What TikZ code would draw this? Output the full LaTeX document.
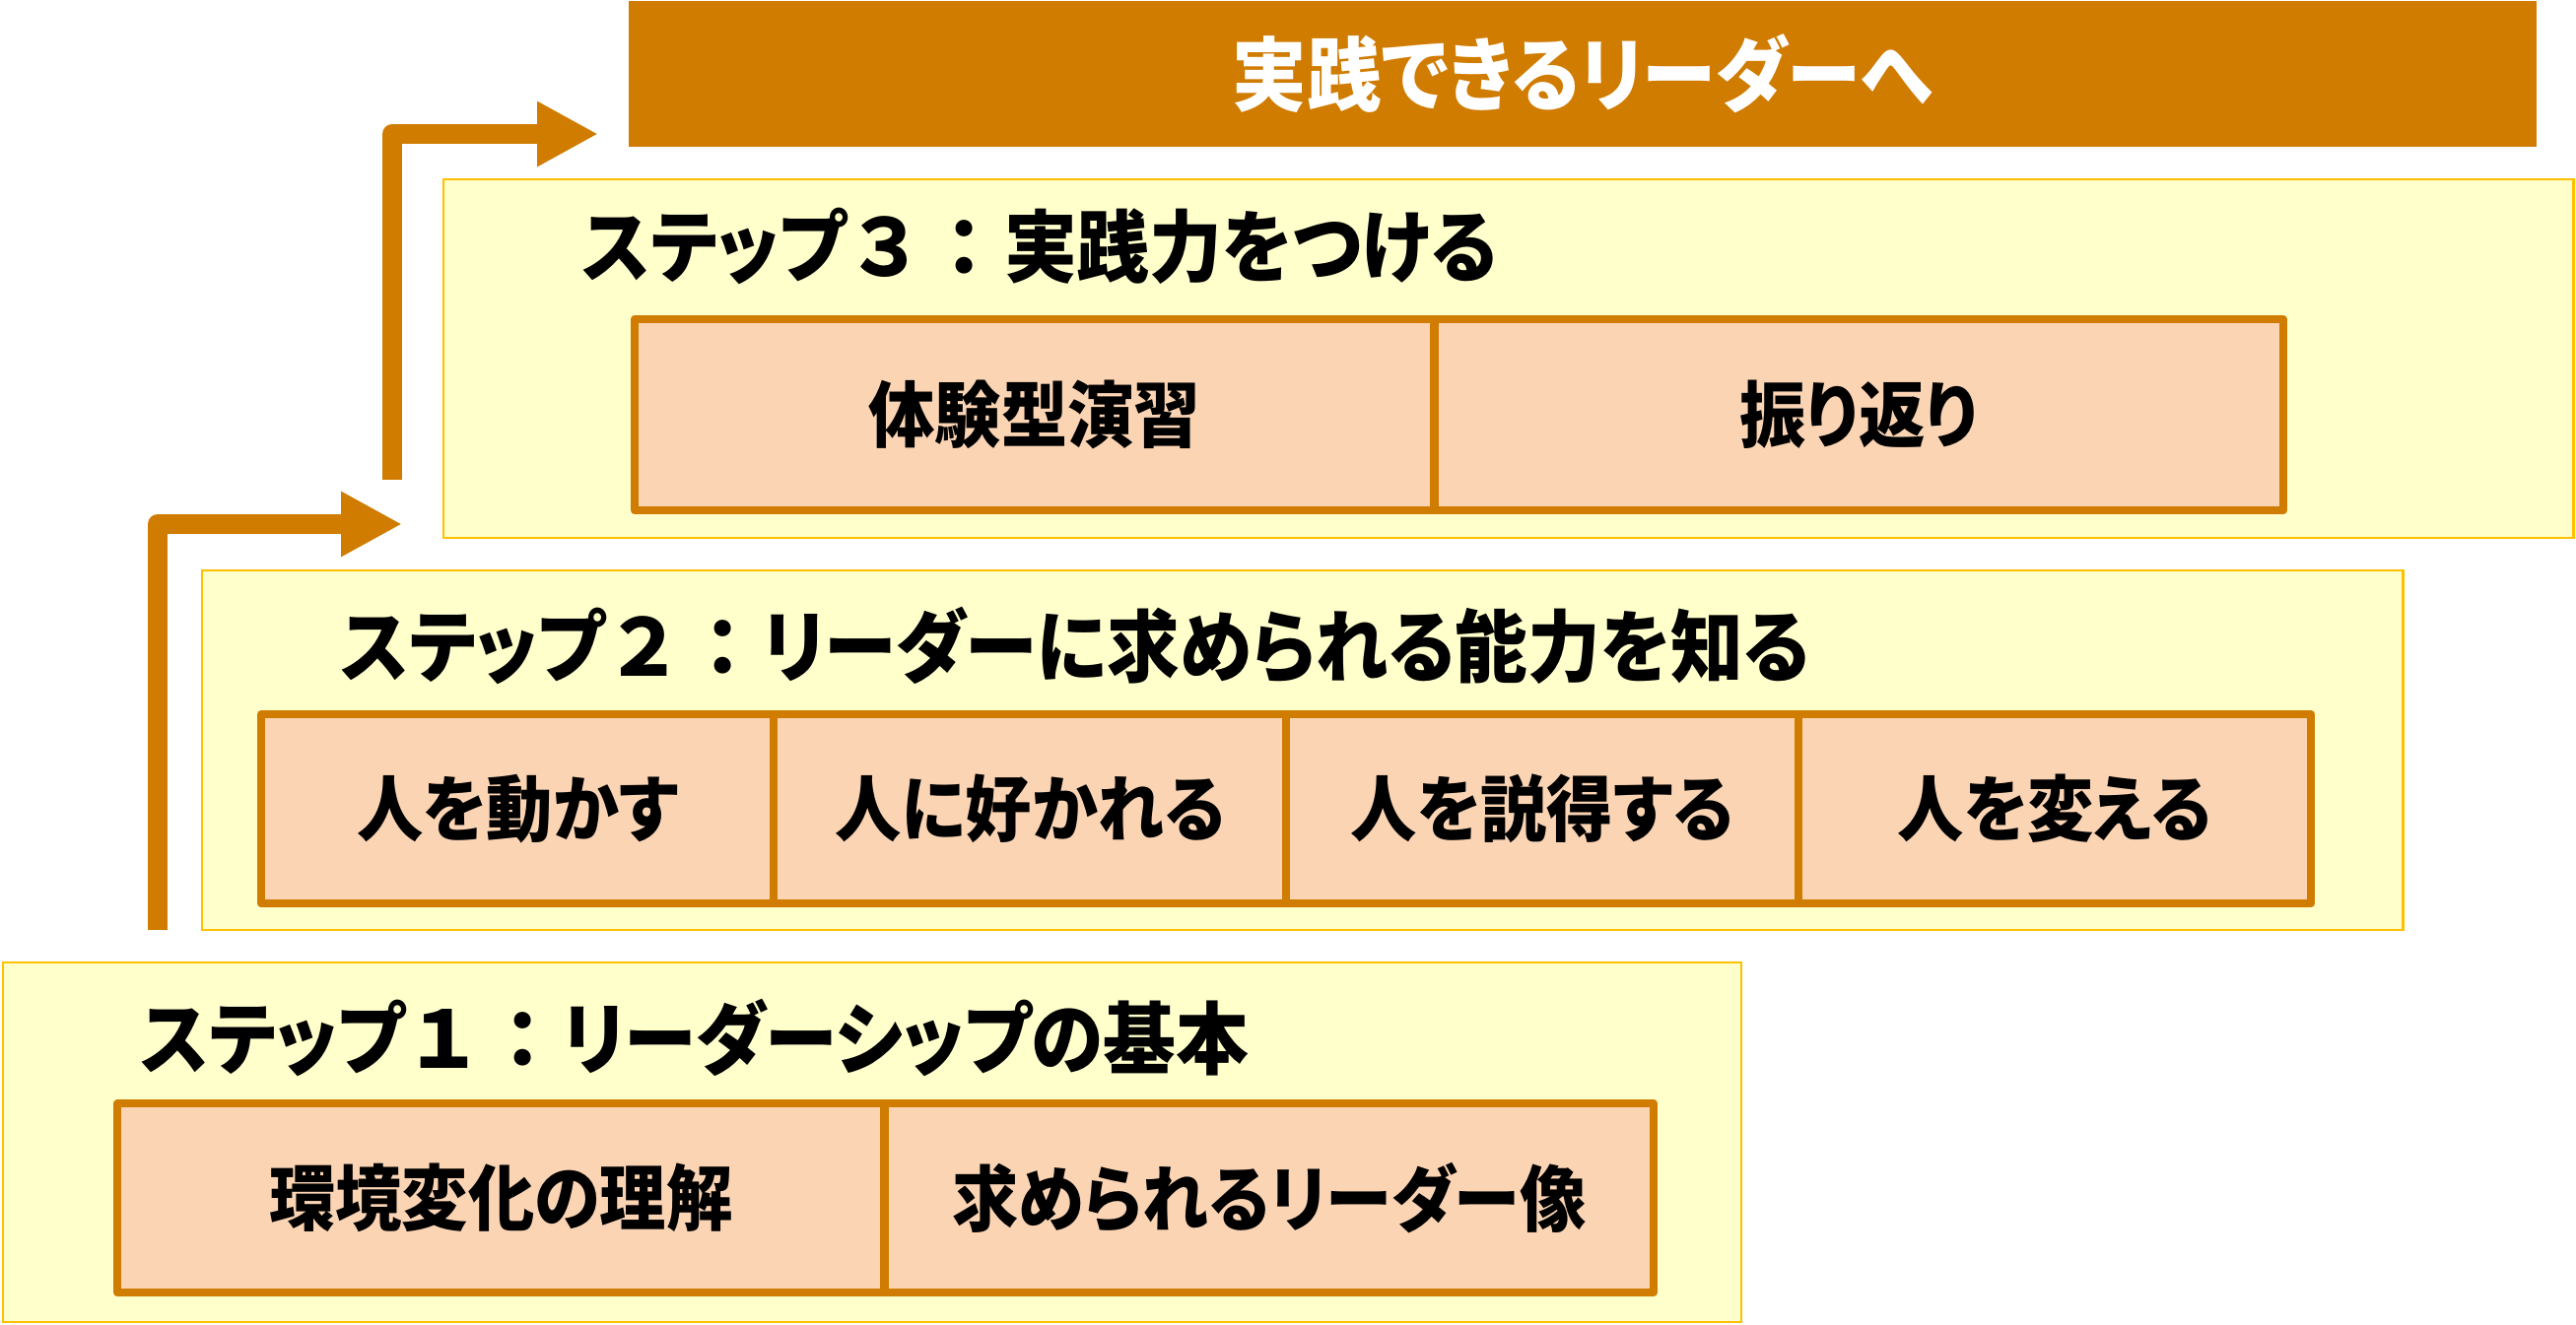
\documentclass[tikz,border=0pt]{standalone}
\usepackage{fontspec}
\usetikzlibrary{arrows.meta}
\newfontfamily\jp[RawFeature=+palt, FakeStretch=0.92]{Noto Sans CJK JP}
\newfontfamily\jpf{Noto Sans CJK JP}
\definecolor{barorange}{RGB}{208,124,0}
\definecolor{stepfill}{RGB}{255,255,204}
\definecolor{stepline}{RGB}{255,192,0}
\definecolor{cellfill}{RGB}{251,212,180}
\tikzset{
  stepbox/.style={draw=stepline, fill=stepfill, line width=0.7pt, anchor=north west, inner sep=0pt, outer sep=0pt},
  cell/.style={draw=barorange, fill=cellfill, line width=2.3pt, line join=round, anchor=north west, inner sep=0pt, outer sep=0pt, font=\jp\bfseries\fontsize{20.8}{24}\selectfont},
  steptitle/.style={anchor=base west, inner sep=0pt, font=\jp\bfseries\fontsize{22.8}{26}\selectfont},
  stairarrow/.style={draw=barorange, line width=5.7pt, line join=round, -{Triangle[length=17.6pt,width=17.6pt]}},
}
\begin{document}
\begin{tikzpicture}[x=0.01cm, y=-0.01cm]
\useasboundingbox (0,0) rectangle (2614,1344);
% goal
\node[fill=barorange, anchor=north west, inner sep=0pt, minimum width=19.35cm, minimum height=1.48cm, text=white, font=\jp\bfseries\fontsize{23.3}{27}\selectfont] (goal) at (637,0) {実践できるリーダーへ};
% step 3
\node[stepbox, minimum width=21.60cm, minimum height=3.64cm] (s3) at (450,182) {};
\node[steptitle] (t3) at ([shift={(140,98)}]s3.north west) {ステップ{\jpf ３：}実践力をつける};
\node[cell, minimum width=8.11cm, minimum height=1.94cm] (c3-1) at (644,324) {体験型演習};
\node[cell, minimum width=8.61cm, minimum height=1.94cm] (c3-2) at (c3-1.north east) {振り返り};
% step 2
\node[stepbox, minimum width=22.32cm, minimum height=3.65cm] (s2) at (205,579) {};
\node[steptitle] (t2) at ([shift={(140,107)}]s2.north west) {ステップ{\jpf ２：}リーダーに求められる能力を知る};
\foreach \txt [count=\i] in {人を動かす,人に好かれる,人を説得する,人を変える}
  \node[cell, minimum width=5.2cm, minimum height=1.92cm] (c2-\i) at ({265+520*(\i-1)},725) {\txt};
% step 1
\node[stepbox, minimum width=17.63cm, minimum height=3.65cm] (s1) at (3,977) {};
\node[steptitle] (t1) at ([shift={(139,107)}]s1.north west) {ステップ{\jpf １：}リーダーシップの基本};
\node[cell, minimum width=7.78cm, minimum height=1.92cm] (c1-1) at (119,1120) {環境変化の理解};
\node[cell, minimum width=7.80cm, minimum height=1.92cm] (c1-2) at (c1-1.north east) {求められるリーダー像};
% arrows
\coordinate (a1) at (160,944);
\coordinate (a1tip) at (408,532);
\coordinate (a2) at (398,487);
\coordinate (a2tip) at (607,136);
\draw[stairarrow] (a1) |- (a1tip);
\draw[stairarrow] (a2) |- (a2tip);
\end{tikzpicture}
\end{document}
